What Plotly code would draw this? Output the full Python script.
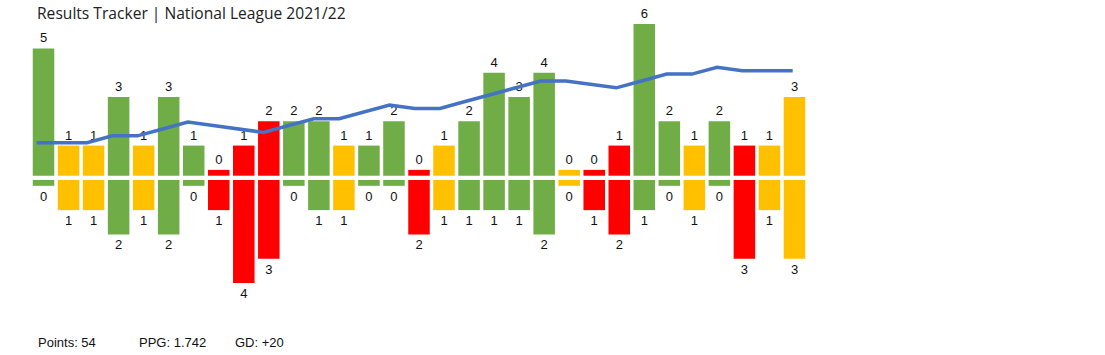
import plotly.graph_objects as go

# ---- data ----
matches = list(range(1, 32))
goals_for = [5, 1, 1, 3, 1, 3, 1, 0, 1, 2, 2, 2, 1, 1, 2, 0, 1, 2, 4, 3, 4, 0, 0, 1, 6, 2, 1, 2, 1, 1, 3]
goals_against = [0, 1, 1, 2, 1, 2, 0, 1, 4, 3, 0, 1, 1, 0, 0, 2, 1, 1, 1, 1, 2, 0, 1, 2, 1, 0, 1, 0, 3, 1, 3]
form_line = [2, 2, 2, 4, 4, 6, 8, 7, 6, 5, 7, 9, 9, 11, 13, 12, 12, 14, 16, 18, 20, 20, 19, 18, 20, 22, 22, 24, 23, 23, 23]
title_text = "Results Tracker | National League 2021/22"

# ---- styles ----
COLORS = {"W": "#70AD47", "D": "#FFC000", "L": "#FF0000"}
LINE_COLOR = "#4472C4"
LABEL_COLOR = "#111111"
ZERO_PAD = 0.24   # stub so that a zero is still visible
GAP = 0.088       # half of the white gap between upper and lower bars

W, H = 1105, 355
ML, MR, MT, MB = 31, 298, 20, 45
PH = H - MT - MB

results = ["W" if f > a else ("D" if f == a else "L") for f, a in zip(goals_for, goals_against)]
bar_colors = [COLORS[r] for r in results]

points = sum(3 if r == "W" else (1 if r == "D" else 0) for r in results)
ppg = points / len(results)
gd = sum(goals_for) - sum(goals_against)

fig = go.Figure()
lab_font = dict(family="Liberation Sans, Arial, sans-serif", size=13, color=LABEL_COLOR)

fig.add_trace(go.Bar(
    x=matches, y=[g + ZERO_PAD for g in goals_for], base=GAP,
    marker=dict(color=bar_colors, line=dict(width=0)),
    text=[str(g) for g in goals_for], textposition="outside", textangle=0,
    outsidetextfont=lab_font, cliponaxis=False, hoverinfo="skip",
))
fig.add_trace(go.Bar(
    x=matches, y=[-(g + ZERO_PAD) for g in goals_against], base=-GAP,
    marker=dict(color=bar_colors, line=dict(width=0)),
    text=[str(g) for g in goals_against], textposition="outside", textangle=0,
    outsidetextfont=lab_font, cliponaxis=False, hoverinfo="skip",
))
fig.add_trace(go.Scatter(
    x=matches, y=form_line, xaxis="x2", yaxis="y2", mode="lines",
    line=dict(color=LINE_COLOR, width=3.5), hoverinfo="skip",
))

# axis scales (pixel-calibrated)
PXU = 24.3
zero_px = 177.85
y_top = (zero_px - MT) / PXU
y_bot = -((MT + PH) - zero_px) / PXU

PXU2 = 3.43
ref_val, ref_px = 2, 142.7
y2_top = ref_val + (ref_px - MT) / PXU2
y2_bot = y2_top - PH / PXU2

x2_px0, x2_step = 36.7, 25.2
x2_left = 1 - (x2_px0 - ML) / x2_step
x2_right = 1 + (W - MR - x2_px0) / x2_step

fig.update_layout(
    width=W, height=H,
    margin=dict(l=ML, r=MR, t=MT, b=MB),
    barmode="overlay", bargap=0.14,
    showlegend=False,
    plot_bgcolor="white", paper_bgcolor="white",
    xaxis=dict(range=[0.5, 31.5], visible=False, fixedrange=True),
    yaxis=dict(range=[y_bot, y_top], visible=False, fixedrange=True),
    xaxis2=dict(range=[x2_left, x2_right], overlaying="x", visible=False, fixedrange=True),
    yaxis2=dict(range=[y2_bot, y2_top], overlaying="y", visible=False, fixedrange=True),
    title=dict(text=title_text, x=37 / W, xanchor="left", y=1 - 14 / H, yanchor="middle",
               font=dict(family="Open Sans, sans-serif", size=15.6, color="#222222")),
)

def px2paper_x(px):
    return (px - ML) / (W - ML - MR)

def px2paper_y(py):
    return (MT + PH - py) / PH

foot_font = dict(family="Liberation Sans, Arial, sans-serif", size=13, color="#111111")
footer = [
    (36, f"Points: {points}"),
    (136.5, f"PPG: {ppg:.3f}"),
    (232.5, f"GD: {gd:+d}"),
]
for px, txt in footer:
    fig.add_annotation(text=txt, xref="paper", yref="paper", x=px2paper_x(px), y=px2paper_y(342),
                       xanchor="left", yanchor="middle", showarrow=False, font=foot_font)

fig.write_html(
    "out.html",
    config={"displayModeBar": False, "staticPlot": True},
    post_script="document.body.style.margin='0';document.body.style.overflow='hidden';",
)
